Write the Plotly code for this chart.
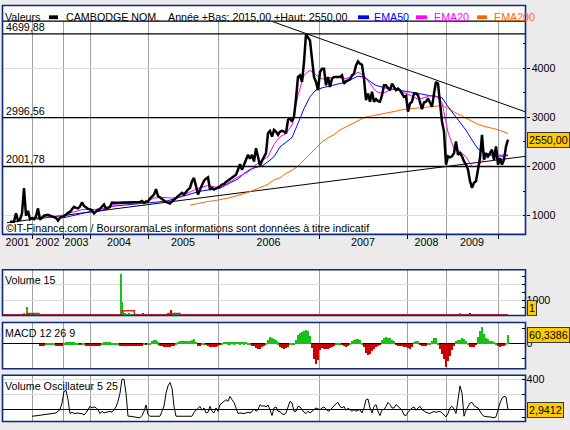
import plotly.graph_objects as go

W, H = 570, 430

# ── data (x = session index, one step = one sample) ───────────────────────────

years = ["2001", "2002", "2003", "2004", "2005", "2006", "2007", "2008", "2009"]
year_starts = [11, 26.5, 40, 69, 104, 154.5, 198.5, 218, 244]
x_first, x_last = -3.5, 257.75

price = [
    880, 880, 880, 1050, 900, 920, 1050, 1560, 1000, 1100,
    930, 950, 930, 990, 1150, 920, 960, 1000, 1010, 1020,
    1000, 990, 980, 960, 900, 960, 970, 990, 1020, 1060,
    1080, 1130, 1180, 1160, 1150, 1190, 1270, 1200, 1170, 1140,
    1130, 1110, 1050, 1090, 1120, 1140, 1180, 1230, 1140, 1160,
    1180, 1270, 1260, 1265, 1265, 1265, 1265, 1265, 1265, 1265,
    1265, 1265, 1265, 1265, 1270, 1280, 1300, 1260, 1290, 1290,
    1350, 1400, 1430, 1540, 1400, 1370, 1330, 1310, 1280, 1260,
    1250, 1290, 1320, 1360, 1400, 1431, 1465, 1431, 1485, 1532,
    1566, 1700, 1768, 1566, 1431, 1532, 1633, 1714, 1754, 1781,
    1532, 1566, 1532, 1553, 1566, 1600, 1633, 1647, 1687, 1714,
    1754, 1781, 1802, 1835, 1936, 2051, 1936, 2024, 2138, 2239,
    2158, 2239, 2104, 2374, 2172, 2024, 2118, 2205, 2273, 2677,
    2724, 2609, 2744, 2710, 2643, 2710, 2726, 2712, 2678, 2948,
    2981, 2914, 3015, 3385, 3823, 3856, 3722, 4125, 4697, 4630,
    4563, 4193, 3823, 3722, 3553, 3924, 3991, 3991, 3654, 3823,
    3621, 3789, 3823, 3823, 3823, 3823, 3856, 3688, 3735, 3755,
    3775, 3856, 3890, 4058, 4139, 4092, 4072, 3789, 3351, 3486,
    3318, 3520, 3318, 3372, 3331, 3318, 3452, 3654, 3654, 3600,
    3553, 3688, 3621, 3553, 3587, 3553, 3486, 3419, 3439, 3116,
    3284, 3318, 3486, 3486, 3452, 3284, 3170, 3304, 3318, 3385,
    3284, 3217, 3486, 3722, 3688, 3318, 2914, 2712, 2039, 2207,
    2187, 2207, 2275, 2510, 2241, 2275, 2207, 2106, 2039, 1938,
    1703, 1568, 1669, 1703, 1905, 2174, 2645, 2140, 2275, 2207,
    2275, 2342, 2140, 2409, 2039, 2174, 2039, 2140, 2409, 2550,
]

# moving averages, one value every 3 sessions
ema_step = 3
ema20 = [
    None, None, None, None, 960, 960, 970, 985, 990, 1020,
    1060, 1100, 1125, 1130, 1125, 1130, 1160, 1220, 1240, 1245,
    1245, 1245, 1260, 1300, 1360, 1375, 1365, 1360, 1370, 1430,
    1490, 1540, 1580, 1615, 1590, 1570, 1640, 1720, 1790, 1850,
    1920, 2040, 2120, 2200, 2450, 2610, 2670, 2850, 3450, 3860,
    3960, 3860, 3780, 3800, 3820, 3810, 3790, 3830, 3920, 3850,
    3680, 3530, 3490, 3540, 3585, 3550, 3490, 3430, 3370, 3400,
    3440, 3440, 3300, 2700, 2360, 2310, 2200, 2000, 2010, 2150,
    2220, 2230, 2235, 2240,
]
ema50 = [
    None, None, None, None, None, None, None, None, None, 960,
    990, 1030, 1060, 1075, 1085, 1095, 1140, 1190, 1205, 1215,
    1225, 1235, 1245, 1260, 1270, 1285, 1295, 1330, 1370, 1400,
    1440, 1475, 1505, 1520, 1530, 1560, 1625, 1690, 1750, 1860,
    1940, 1985, 2010, 2100, 2200, 2400, 2495, 2590, 2880, 3180,
    3420, 3560, 3600, 3630, 3660, 3690, 3720, 3780, 3840, 3820,
    3740, 3650, 3620, 3585, 3570, 3553, 3530, 3510, 3490, 3465,
    3440, 3430, 3400, 3220, 3060, 2880, 2740, 2540, 2360, 2280,
    2240, 2220, 2210, 2225,
]
ema200 = [
    None, None, None, None, None, None, None, None, None, None,
    None, None, None, None, None, None, None, None, None, None,
    None, None, None, None, None, None, None, None, None, None,
    1215, 1245, 1270, 1290, 1305, 1320, 1350, 1380, 1410, 1450,
    1490, 1535, 1580, 1640, 1730, 1770, 1860, 1925, 2010, 2130,
    2270, 2390, 2500, 2585, 2650, 2746, 2805, 2870, 2930, 3000,
    3025, 3045, 3070, 3100, 3130, 3150, 3168, 3180, 3195, 3210,
    3225, 3240, 3240, 3190, 3110, 3050, 2990, 2920, 2860, 2820,
    2795, 2760, 2720, 2675,
]

levels = [4699.88, 2996.56, 2001.78]
level_text = ["4699,88", "2996,56", "2001,78"]

trend_low_x = [-1.5, 257.5]
trend_low = [859, 2207]
trend_high_x = [131, 257.5]
trend_high = [4953, 3116]

vol_x = [1, 2, 3, 4, 5, 6, 7, 8.5, 9.5, 10.5, 11.5, 12.5, 13.5,
         55.5, 56, 56.5, 57.5, 58.5, 59.5, 60.5, 61.5, 66.5, 67.5,
         79, 80, 80.5, 81.5, 82.5, 83.5, 84.5, 225, 230]
vol = [80, 100, 120, 60, 90, 100, 150, 570, 150, 120, 100, 140, 100,
       2680, 890, 290, 150, 120, 150, 120, 100, 150, 130,
       170, 200, 350, 150, 120, 100, 100, 200, 200]
vol_up = [1, 1, 1, 1, 1, 1, 1, 1, 0, 1, 0, 1, 1,
          1, 1, 1, 1, 1, 1, 1, 1, 0, 0,
          1, 0, 0, 1, 1, 1, 1, 1, 0]
vol_ma_x = [-3.5, 8.5, 14.5, 55.8, 62.2, 79, 85, 249]
vol_ma = [50, 135, 50, 310, 50, 135, 50, 50]
last_volume = 1

macd = [
    None, None, None, None, None, None, None, None, None, None,
    None, None, None, None, None, -9, -9, -9, 9, 9,
    9, 9, 7, -9, -9, -9, -7, 9, 13, 13,
    13, 13, 13, 11, 9, -4, 9, 9, -9, -11,
    -11, -13, -11, -11, -9, -7, 9, 13, 13, 13,
    13, 11, 9, 7, 4, -9, -11, -11, -11, -11,
    -11, -11, -11, -11, -11, -11, -9, 4, -4, 4,
    9, 18, 27, 31, 13, -7, -13, -18, -20, -22,
    -18, -13, -7, 7, 15, 20, 20, 20, 18, 20,
    22, 31, 35, 15, -9, -7, 9, 9, -4, -13,
    -20, -22, -22, -20, -13, -4, 11, 15, 15, 13,
    13, 15, 13, 15, 15, 13, 15, 13, 15, 11,
    7, -7, -15, -27, -35, -31, -18, -7, 9, 29,
    46, 44, 35, 27, 13, -20, -29, -33, -29, -22,
    9, 9, 9, 31, 60, 75, 82, 91, 98, 87,
    53, -24, -102, -131, -109, -42, -29, -31, -36, -33,
    -29, -20, -13, 7, 7, 7, -2, -13, -16, -11,
    9, 20, 29, 36, 33, 29, 11, -20, -58, -75,
    -69, -47, -33, -22, -13, -2, 29, 42, 47, 44,
    38, 31, 20, -2, -9, -11, -13, -16, -20, -29,
    -36, -20, 16, 24, 20, -2, -9, -11, -7, 7,
    11, 20, 42, 42, 9, -36, -69, -102, -153, -113,
    -80, -42, -13, 24, 29, 31, 38, 33, 24, 9,
    -16, -20, -16, -2, 47, 87, 113, 69, 42, 33,
    24, 20, 16, 9, -11, -20, -13, -7, 9, 60.3386,
]

vol_osc = [
    None, None, None, None, None, None, None, None, None, None,
    None, -82, -82, -73, -73, -69, -65, -65, -60, -56,
    -52, -47, -47, -39, -17, 4, 90, 241, 254, 133,
    -47, -30, -47, -39, -39, -47, -47, -65, -39, 4,
    47, 26, 39, 30, 4, -47, -17, -39, -30, -22,
    -17, -30, 13, 39, 112, 219, 400, 400, 219, -82,
    -82, -86, -90, -99, -99, -103, -73, -17, 65, -60,
    -82, -82, -86, -90, -86, -82, -17, 47, 219, 314,
    357, 284, 47, -82, -82, -82, -82, -82, -82, -82,
    -82, -82, -30, -4, 26, 47, -4, 26, -39, -30,
    47, -17, -39, 26, -17, 69, 90, 112, 133, 112,
    176, 133, 99, 26, -47, -39, -47, -47, -39, -30,
    -39, -22, 13, -17, 4, 69, 47, 56, 39, 65,
    4, -73, 26, 39, -17, -17, -52, -60, -39, 47,
    112, 90, -17, -17, 47, 39, 4, -30, -47, -17,
    -39, -17, 4, 26, 13, 4, 26, 39, 13, -17,
    -4, 26, 47, 82, 99, 47, 26, 47, -4, 22,
    4, -17, 4, -17, -4, 4, -39, 26, 133, 142,
    26, -39, 47, 69, -17, -73, 4, 4, 47, 99,
    69, 26, 26, 69, 47, 26, -4, -65, -73, -30,
    4, 26, 39, -4, 26, 47, 4, -17, -30, -39,
    -47, -30, -22, -30, -22, -17, -39, -60, -90, -47,
    26, 47, 13, -47, 133, 314, 219, -82, -4, 47,
    90, 99, 56, 39, 26, -17, -60, -82, -90, -90,
    -90, -99, -103, -90, 4, 90, 155, 176, 168, 2.9412,
]

# ── styling ────────────────────────────────────────────────────────────────────

FONT = "Liberation Sans"
FS = 10.7
NAVY = "#0c2a7c"
GRID = "#dcdcdc"
VGRID = "#a0a0a0"
YELLOW = "#ffcc00"
BLUE, MAGENTA, ORANGE = "#0000ff", "#ff00ff", "#ff6600"
GREEN, RED = "#18c018", "#cc0000"


def px_x(p):
    return p / W


def px_y(p):
    return 1 - p / H


def fr(v, nd):
    return f"{v:.{nd}f}".replace(".", ",")


t = list(range(len(price)))
t_ema = [i * ema_step for i in range(len(ema20))]

fig = go.Figure()

# main panel
fig.add_trace(go.Scatter(x=trend_low_x, y=trend_low, mode="lines",
                         line=dict(color="black", width=1), xaxis="x", yaxis="y"))
fig.add_trace(go.Scatter(x=trend_high_x, y=trend_high, mode="lines",
                         line=dict(color="black", width=1), xaxis="x", yaxis="y"))
fig.add_trace(go.Scatter(x=t_ema, y=ema200, mode="lines",
                         line=dict(color=ORANGE, width=1), xaxis="x", yaxis="y"))
fig.add_trace(go.Scatter(x=t_ema, y=ema50, mode="lines",
                         line=dict(color=BLUE, width=1), xaxis="x", yaxis="y"))
fig.add_trace(go.Scatter(x=t_ema, y=ema20, mode="lines",
                         line=dict(color=MAGENTA, width=1), xaxis="x", yaxis="y"))
fig.add_trace(go.Scatter(x=t, y=price, mode="lines",
                         line=dict(color="black", width=2.5), xaxis="x", yaxis="y"))

# volume
fig.add_trace(go.Bar(x=vol_x, y=vol, width=0.5,
                     marker=dict(color=[GREEN if u else RED for u in vol_up], line_width=0),
                     xaxis="x2", yaxis="y2"))
fig.add_trace(go.Scatter(x=vol_ma_x, y=vol_ma, mode="lines", line_shape="hv",
                         line=dict(color="#dd2020", width=1.5), xaxis="x2", yaxis="y2"))

# MACD histogram
fig.add_trace(go.Bar(x=t, y=macd, width=1,
                     marker=dict(color=[GREEN if (m or 0) >= 0 else RED for m in macd],
                                 line_width=0),
                     xaxis="x3", yaxis="y3"))

# volume oscillator
fig.add_trace(go.Scatter(x=t, y=vol_osc, mode="lines",
                         line=dict(color="black", width=1), xaxis="x4", yaxis="y4"))

x_dom = [px_x(3), px_x(525.5)]
mids = [(a + b) / 2 for a, b in zip([x_first] + year_starts[:-1], year_starts)]

xcommon = dict(range=[x_first, x_last], domain=x_dom, showgrid=False, zeroline=False,
               showline=False, fixedrange=True,
               minor=dict(tickvals=year_starts, showgrid=True, gridcolor=VGRID,
                          gridwidth=1, ticks=""))

layout_axes = dict(
    xaxis=dict(xcommon, anchor="y", tickmode="array", tickvals=mids, ticktext=years,
               ticks="", tickfont=dict(size=FS),
               minor=dict(tickvals=year_starts, showgrid=True, gridcolor=VGRID,
                          gridwidth=1, ticks="outside", ticklen=4, tickcolor="black")),
    xaxis2=dict(xcommon, anchor="y2", matches="x", showticklabels=False),
    xaxis3=dict(xcommon, anchor="y3", matches="x", showticklabels=False),
    xaxis4=dict(xcommon, anchor="y4", matches="x", showticklabels=False),
    yaxis=dict(domain=[px_y(233), px_y(19.5)], range=[630, 4953], side="right",
               anchor="x", tickvals=[1000, 2000, 3000, 4000], ticks="outside",
               ticklen=3, tickcolor="black", showgrid=True, gridcolor=GRID,
               zeroline=False, showline=False,
               minor=dict(dtick=500, ticks="inside", ticklen=3, tickcolor="black",
                          showgrid=False)),
    yaxis2=dict(domain=[px_y(315), px_y(269)], range=[0, 2970], side="right",
                anchor="x2", tickvals=[1000, 2000], ticktext=["1000", ""],
                ticks="inside", ticklen=4, tickcolor="black", showgrid=True,
                gridcolor=GRID, zeroline=False, showline=False,
                minor=dict(dtick=500, ticks="inside", ticklen=4, tickcolor="black",
                           showgrid=False)),
    yaxis3=dict(domain=[px_y(368.5), px_y(322)], range=[-169, 142], side="right",
                anchor="x3", tickvals=[-100, 0, 100], ticktext=["", "0", ""],
                ticks="inside", ticklen=4, tickcolor="black", showgrid=False,
                zeroline=True, zerolinecolor="black", zerolinewidth=1, showline=False),
    yaxis4=dict(domain=[px_y(421.5), px_y(375)], range=[-151, 452], side="right",
                anchor="x4", tickvals=[0, 200, 400], ticktext=["", "", "400"],
                ticks="inside", ticklen=4, tickcolor="black", showgrid=True,
                gridcolor=GRID, zeroline=True, zerolinecolor="black", zerolinewidth=1,
                showline=False,
                minor=dict(tickvals=[-100], ticks="inside", ticklen=4,
                           tickcolor="black", showgrid=False)),
)

shapes = [
    # title strip background
    dict(type="rect", xref="paper", yref="paper", x0=px_x(2.5), x1=px_x(525.5),
         y0=px_y(19.5), y1=px_y(3.5), fillcolor="white", line_width=0, layer="below"),
]
for lv in levels:
    shapes.append(dict(type="line", xref="x domain", yref="y", x0=0, x1=1, y0=lv, y1=lv,
                       line=dict(color="black", width=1.4)))
shapes.append(dict(type="line", xref="paper", yref="paper", x0=px_x(2.5), x1=px_x(525.5),
                   y0=px_y(19.3), y1=px_y(19.3), line=dict(color="black", width=1.3)))
for top, bot in [(3.5, 233.5), (269, 315), (322, 368.5), (375, 421.5)]:
    shapes.append(dict(type="rect", xref="paper", yref="paper", x0=px_x(2.5),
                       x1=px_x(525.5), y0=px_y(bot), y1=px_y(top),
                       line=dict(color=NAVY, width=1.6), fillcolor="rgba(0,0,0,0)",
                       layer="above"))

# legend swatches of the title strip
for x0, x1, col in [(49, 58, "black"), (358, 369, BLUE), (416, 427, MAGENTA),
                    (477, 487, ORANGE)]:
    shapes.append(dict(type="rect", xref="paper", yref="paper", x0=px_x(x0), x1=px_x(x1),
                       y0=px_y(17.2), y1=px_y(13.4), fillcolor=col, line_width=0))

ann = []


def label(x, y, text, color="black", yref="paper", yanchor="middle", **kw):
    ann.append(dict(x=px_x(x), y=y, xref="paper", yref=yref, text=text, showarrow=False,
                    xanchor="left", yanchor=yanchor, borderpad=0,
                    font=dict(family=FONT, size=FS, color=color), **kw))


label(3.5, px_y(15.3), "Valeurs")
label(65, px_y(15.3), "CAMBODGE NOM.")
label(166.5, px_y(15.3), "Année +Bas: 2015,00 +Haut: 2550,00")
label(373, px_y(15.3), "EMA50", BLUE)
label(433, px_y(15.3), "EMA20", MAGENTA)
label(493, px_y(15.3), "EMA200", ORANGE)

for lv, txt in zip(levels, level_text):
    label(5, lv, txt, yref="y", yanchor="bottom")

label(5, px_y(227.5), "©IT-Finance.com / BoursoramaLes informations sont données à titre indicatif")
label(4, px_y(279.5), "Volume 15")
label(4, px_y(332.5), "MACD 12 26 9")
label(4, px_y(386), "Volume Oscillateur 5 25")

box = dict(bgcolor=YELLOW, bordercolor="#3a3a3a", borderwidth=1)
ann.append(dict(x=px_x(527), y=price[-1], xref="paper", yref="y", text=fr(price[-1], 2),
                showarrow=False, xanchor="left", yanchor="middle", borderpad=1,
                font=dict(family=FONT, size=FS, color="black"), **box))
ann.append(dict(x=px_x(527), y=0, xref="paper", yref="y2", text=str(last_volume),
                showarrow=False, xanchor="left", yanchor="bottom", borderpad=1,
                font=dict(family=FONT, size=FS, color="black"), **box))
ann.append(dict(x=px_x(527), y=macd[-1], xref="paper", yref="y3", text=fr(macd[-1], 4),
                showarrow=False, xanchor="left", yanchor="middle", borderpad=1,
                font=dict(family=FONT, size=FS, color="black"), **box))
ann.append(dict(x=px_x(527), y=vol_osc[-1], xref="paper", yref="y4",
                text=fr(vol_osc[-1], 4), showarrow=False, xanchor="left",
                yanchor="middle", borderpad=1,
                font=dict(family=FONT, size=FS, color="black"), **box))

fig.update_layout(
    width=W, height=H,
    margin=dict(l=0, r=0, t=0, b=0),
    paper_bgcolor="#ebebeb",
    plot_bgcolor="white",
    showlegend=False,
    bargap=0,
    font=dict(family=FONT, size=FS, color="black"),
    shapes=shapes,
    annotations=ann,
    **layout_axes,
)

# the page's default body margin would push the figure 8px off the window origin
fig.write_html("out.html", config={"displayModeBar": False},
               post_script="document.body.style.margin='0';document.body.style.overflow='hidden';")
